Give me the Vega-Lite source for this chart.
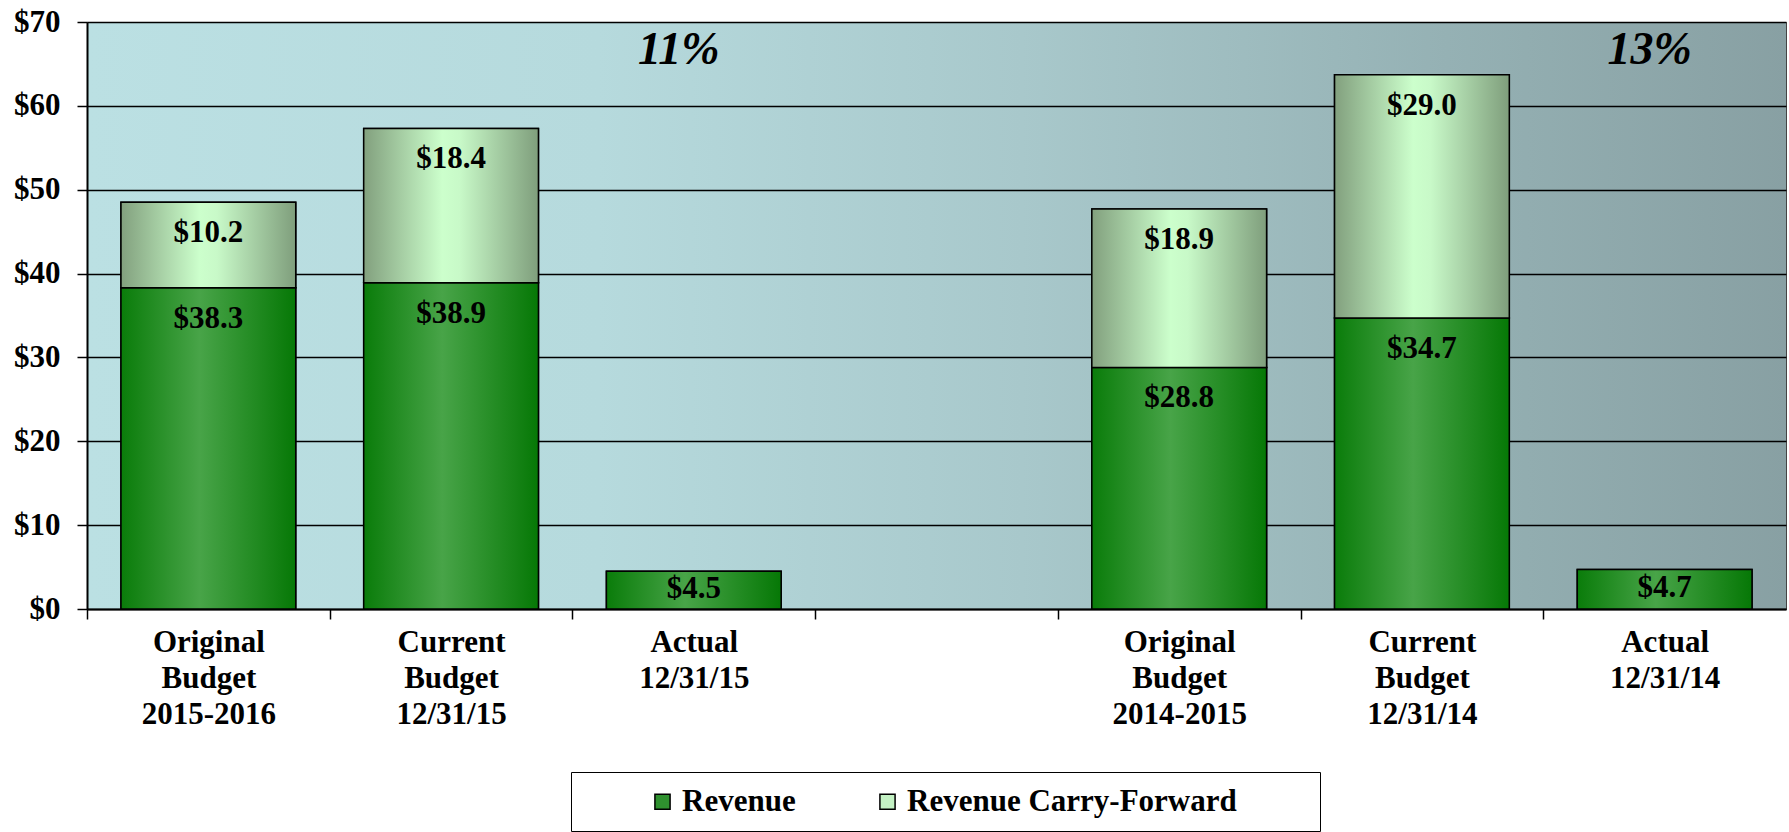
{
  "$schema": "https://vega.github.io/schema/vega-lite/v6.json",
  "width": 1699,
  "height": 587,
  "autosize": {"type": "none"},
  "padding": {"left": 87, "top": 22, "right": 3, "bottom": 223},
  "background": "white",
  "config": {
    "font": "Liberation Serif",
    "view": {
      "fill": {
        "gradient": "linear", "x1": 0, "y1": 0, "x2": 1, "y2": 0,
        "stops": [
          {"offset": 0, "color": "#bbe0e3"},
          {"offset": 0.3, "color": "#b6dadd"},
          {"offset": 0.55, "color": "#a8c8cb"},
          {"offset": 0.8, "color": "#95b1b4"},
          {"offset": 1, "color": "#88a0a3"}
        ]
      },
      "stroke": "#444444",
      "strokeWidth": 1
    },
    "axis": {
      "labelFont": "Liberation Serif",
      "labelFontWeight": "bold",
      "labelFontSize": 31,
      "labelColor": "black",
      "domainColor": "black",
      "domainWidth": 2,
      "tickColor": "black",
      "tickWidth": 1.5,
      "tickSize": 10
    }
  },
  "datasets": {
    "budget": [
      {"category": "Original Budget 2015-2016", "series": "Revenue", "value": 38.3},
      {"category": "Original Budget 2015-2016", "series": "Revenue Carry-Forward", "value": 10.2},
      {"category": "Current Budget 12/31/15", "series": "Revenue", "value": 38.9},
      {"category": "Current Budget 12/31/15", "series": "Revenue Carry-Forward", "value": 18.4},
      {"category": "Actual 12/31/15", "series": "Revenue", "value": 4.5},
      {"category": "Original Budget 2014-2015", "series": "Revenue", "value": 28.8},
      {"category": "Original Budget 2014-2015", "series": "Revenue Carry-Forward", "value": 18.9},
      {"category": "Current Budget 12/31/14", "series": "Revenue", "value": 34.7},
      {"category": "Current Budget 12/31/14", "series": "Revenue Carry-Forward", "value": 29.0},
      {"category": "Actual 12/31/14", "series": "Revenue", "value": 4.7}
    ],
    "notes": [
      {"category": "Actual 12/31/15", "y": 66.7, "label": "11%"},
      {"category": "Actual 12/31/14", "y": 66.7, "label": "13%"}
    ]
  },
  "layer": [
    {
      "data": {"name": "budget"},
      "mark": {"type": "bar", "stroke": "black", "strokeWidth": 1.5},
      "encoding": {
        "x": {
          "field": "category", "type": "nominal", "title": null,
          "scale": {
            "domain": ["Original Budget 2015-2016", "Current Budget 12/31/15", "Actual 12/31/15", "gap", "Original Budget 2014-2015", "Current Budget 12/31/14", "Actual 12/31/14"],
            "paddingInner": 0.28, "paddingOuter": 0.14
          },
          "axis": {
            "labelAngle": 0,
            "labelExpr": "datum.label == 'gap' ? '' : split(datum.label, ' ')",
            "labelLineHeight": 36,
            "labelPadding": 8,
            "labelBaseline": "top",
            "labelLimit": 0,
            "labelOverlap": false,
            "tickOffset": -121.357,
            "labelOffset": 121.357,
            "grid": false
          }
        },
        "y": {
          "field": "value", "type": "quantitative", "title": null, "stack": "zero",
          "scale": {"domain": [0, 70], "nice": false},
          "axis": {
            "values": [0, 10, 20, 30, 40, 50, 60, 70],
            "format": "$,.0f",
            "labelPadding": 17,
            "grid": true,
            "gridColor": "black",
            "gridWidth": 1.5,
            "gridOpacity": 1
          }
        },
        "color": {
          "field": "series", "type": "nominal",
          "scale": {
            "domain": ["Revenue", "Revenue Carry-Forward"],
            "range": ["#2f912f", "#c4f2c4"]
          },
          "legend": {
            "orient": "none",
            "legendX": 484,
            "legendY": 750,
            "direction": "horizontal",
            "title": " ",
            "titleOrient": "right",
            "titlePadding": 69,
            "titleFontSize": 20,
            "padding": 14,
            "fillColor": "white",
            "strokeColor": "black",
            "labelFont": "Liberation Serif",
            "labelFontWeight": "bold",
            "labelFontSize": 31,
            "labelColor": "black",
            "labelLimit": 0,
            "symbolType": "square",
            "symbolSize": 230,
            "symbolStrokeColor": "black",
            "symbolStrokeWidth": 1.5,
            "symbolOffset": 62,
            "labelOffset": 4,
            "columnPadding": 14
          }
        },
        "order": {"field": "series", "sort": "ascending"}
      }
    },
    {
      "data": {"name": "budget"},
      "mark": {"type": "bar", "stroke": "black", "strokeWidth": 1.5},
      "encoding": {
        "x": {"field": "category", "type": "nominal", "title": null},
        "y": {"field": "value", "type": "quantitative", "title": null, "stack": "zero"},
        "detail": {"field": "series"},
        "order": {"field": "series", "sort": "ascending"},
        "fill": {
          "condition": {
            "test": "datum.series == 'Revenue'",
            "value": {"gradient": "linear", "x1": 0, "y1": 0, "x2": 1, "y2": 0,
              "stops": [
                {"offset": 0, "color": "#0a7c0a"},
                {"offset": 0.45, "color": "#48a448"},
                {"offset": 1, "color": "#067806"}
              ]}
          },
          "value": {"gradient": "linear", "x1": 0, "y1": 0, "x2": 1, "y2": 0,
            "stops": [
              {"offset": 0, "color": "#82a07e"},
              {"offset": 0.45, "color": "#ccffcc"},
              {"offset": 0.55, "color": "#c8f9c8"},
              {"offset": 1, "color": "#7f9e7c"}
            ]}
        }
      }
    },
    {
      "data": {"name": "budget"},
      "mark": {"type": "text", "fontSize": 31, "fontWeight": "bold", "color": "black", "baseline": "middle", "dy": {"expr": "datum.value < 10 ? 18 : 31"}},
      "encoding": {
        "x": {"field": "category", "type": "nominal", "title": null},
        "y": {"field": "value", "type": "quantitative", "title": null, "stack": "zero"},
        "detail": {"field": "series"},
        "order": {"field": "series", "sort": "ascending"},
        "text": {"field": "value", "type": "quantitative", "format": "$.1f"}
      }
    },
    {
      "data": {"name": "notes"},
      "mark": {"type": "text", "fontSize": 46, "fontWeight": "bold", "fontStyle": "italic", "color": "black", "baseline": "middle", "dx": -15},
      "encoding": {
        "x": {"field": "category", "type": "nominal", "title": null},
        "y": {"field": "y", "type": "quantitative", "title": null},
        "text": {"field": "label"}
      }
    }
  ]
}
